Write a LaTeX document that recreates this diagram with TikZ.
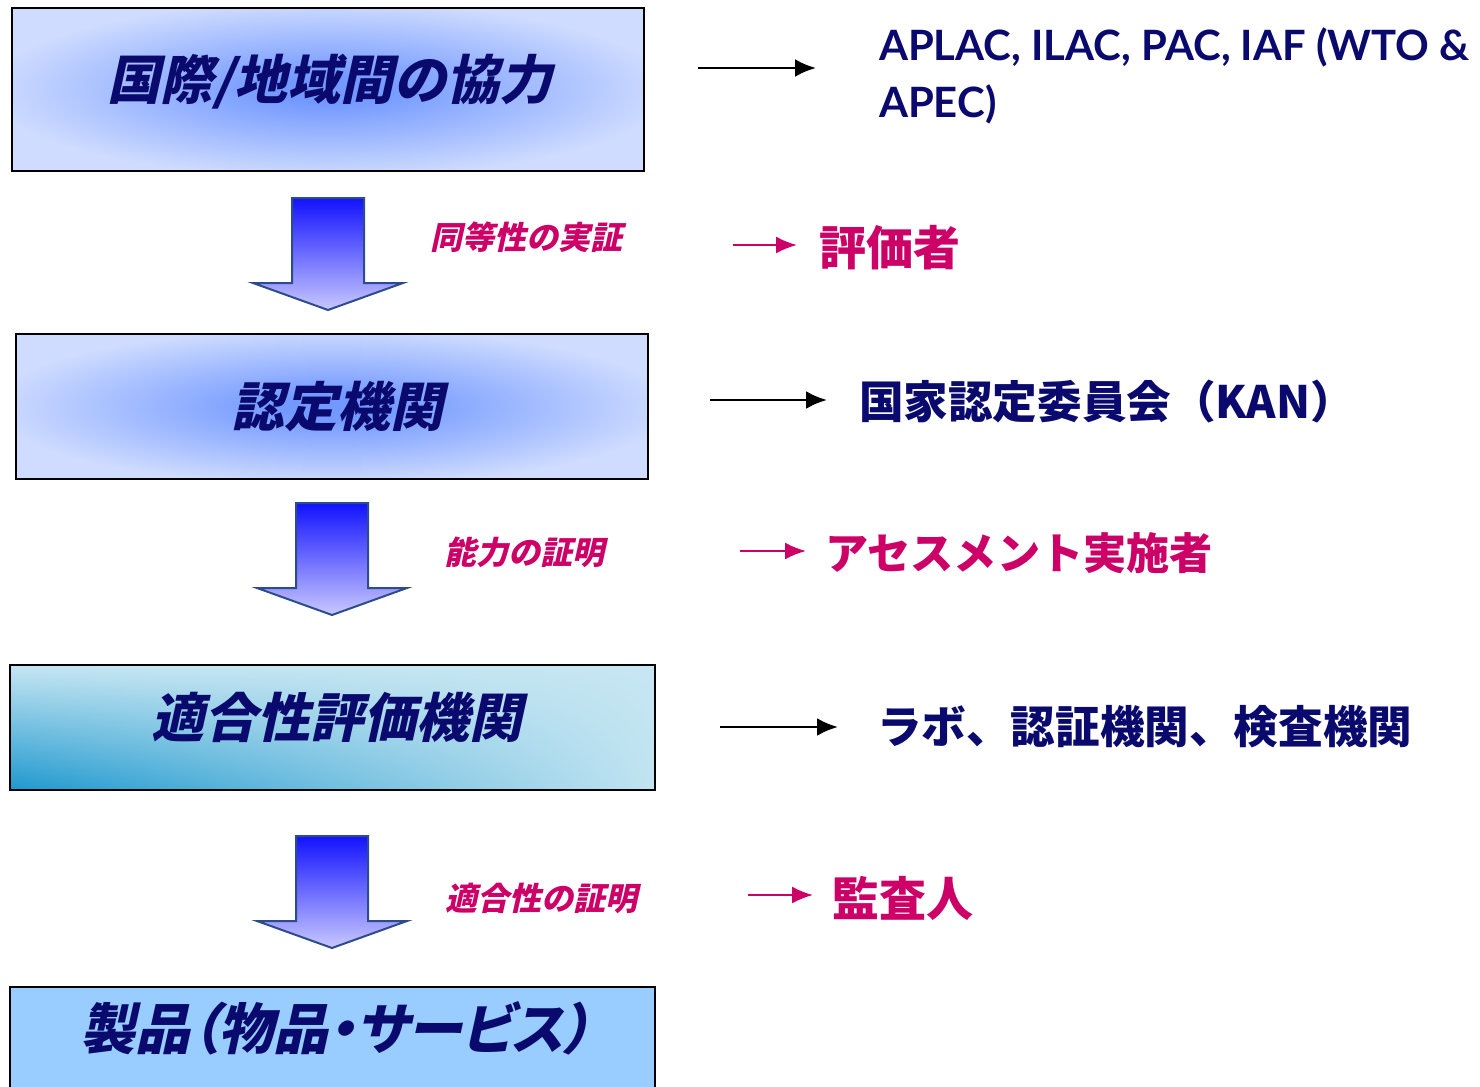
\documentclass[tikz,border=0pt]{standalone}
\usepackage{fontspec}
\usetikzlibrary{shadings,arrows.meta}
\setmainfont{Carlito}
\newfontfamily\latb{Lato}
\newfontfamily\jp{Noto Sans CJK JP}
\newfontfamily\jpit{Noto Sans CJK JP}[FakeSlant=0.22]
\newfontfamily\jpitp{Noto Sans CJK JP}[FakeSlant=0.22,RawFeature=+palt]
\definecolor{navy}{HTML}{0A0A6E}
\definecolor{pinkred}{HTML}{CC0066}
\definecolor{glowin}{HTML}{7399FF}
\definecolor{glowout}{HTML}{CFDCFF}
\definecolor{sealo}{HTML}{1E98CE}
\definecolor{seahi}{HTML}{C6E6F2}
\definecolor{prodblue}{HTML}{99CCFF}
\definecolor{arrtop}{HTML}{1212FF}
\definecolor{arrbot}{HTML}{C8C8FF}
\definecolor{arredge}{HTML}{2E4C8C}
\pgfdeclareradialshading{glow}{\pgfpoint{0bp}{0bp}}{color(0bp)=(glowin); color(4bp)=(glowin); color(27bp)=(glowout); color(50bp)=(glowout)}
\tikzset{
  boxline/.style={draw=black,line width=1pt},
  title/.style={text=navy,font=\jpit\bfseries\fontsize{26.5}{30}\selectfont},
  proof/.style={text=pinkred,font=\jpit\bfseries\fontsize{16}{19}\selectfont},
  role/.style={anchor=west,text=pinkred,font=\jp\bfseries\fontsize{23.5}{27}\selectfont},
  body/.style={anchor=west,text=navy,font=\jp\bfseries\fontsize{22.3}{26}\selectfont},
  blkarrow/.style={line width=1.4pt,-{Latex[length=10.5pt,width=9pt]}},
  pinkarrow/.style={pinkred,line width=1.1pt,-{Latex[length=10.5pt,width=8.5pt]}},
  bigarrow/.style={top color=arrtop,bottom color=arrbot,draw=arredge,line width=1pt}
}
\newcommand\downblock[2]{%
  \shade[bigarrow] (#1-36,#2) -- (#1+36,#2) -- (#1+36,#2+85) -- (#1+75,#2+85)
    -- (#1,#2+112) -- (#1-75,#2+85) -- (#1-36,#2+85) -- cycle;}
\begin{document}
\begin{tikzpicture}[x=0.5pt,y=-0.5pt]
  \useasboundingbox (0,0) rectangle (1480,1087);
  \clip (0,0) rectangle (1480,1087);
  % boxes
  \shade[shading=glow,boxline] (12,8) rectangle (644,171);
  \shade[shading=glow,boxline] (16,334) rectangle (648,479);
  \shade[lower left=sealo,lower right=seahi!97!sealo,upper left=seahi,upper right=seahi,boxline] (10,665) rectangle (655,790);
  \filldraw[fill=prodblue,boxline] (10,987) rectangle (655,1100);
  \node[title] (t1) at (330,82) {国際/地域間の協力};
  \node[title] (t2) at (337,407) {認定機関};
  \node[title] (t3) at (337,717) {適合性評価機関};
  \node[title,font=\jpitp\bfseries\fontsize{27.5}{31}\selectfont] (t4) at (336,1028) {製品（物品・サービス）};
  % block arrows
  \downblock{328}{198}
  \downblock{332}{503}
  \downblock{332}{836}
  \node[proof] (p1) at (526,237) {同等性の実証};
  \node[proof] (p2) at (524,552) {能力の証明};
  \node[proof] (p3) at (541,898) {適合性の証明};
  % right column
  \node[anchor=west,align=left,text=navy,font=\latb\bfseries\fontsize{20.9}{28.5}\selectfont] (r1) at (872,76) {APLAC, ILAC, PAC, IAF (WTO \&\\APEC)};
  \node[role] (r2) at (812,248) {評価者};
  \node[role,font=\jp\bfseries\fontsize{21.6}{26}\selectfont] (r4) at (818,553) {アセスメント実施者};
  \node[body] (r3) at (852,402) {国家認定委員会（KAN）};
  \node[body] (r5) at (870,727) {ラボ、認証機関、検査機関};
  \node[role] (r6) at (825,898) {監査人};
  \coordinate (s1) at (698,68);
  \coordinate (s2) at (733,245);
  \coordinate (s3) at (710,400);
  \coordinate (s4) at (740,551);
  \coordinate (s5) at (720,727);
  \coordinate (s6) at (748,895);
  \draw[blkarrow] (s1) -- (816,68);
  \draw[pinkarrow,shorten >=7.5pt] (s2) -- (s2 -| r2.west);
  \draw[blkarrow,shorten >=12.5pt] (s3) -- (s3 -| r3.west);
  \draw[pinkarrow,shorten >=6pt] (s4) -- (s4 -| r4.west);
  \draw[blkarrow,shorten >=16pt] (s5) -- (s5 -| r5.west);
  \draw[pinkarrow,shorten >=6pt] (s6) -- (s6 -| r6.west);
\end{tikzpicture}
\end{document}
